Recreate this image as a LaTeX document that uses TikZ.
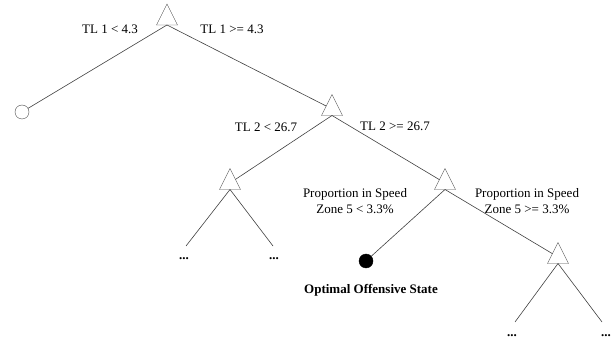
\documentclass[tikz,border=0pt]{standalone}
\usepackage{fontspec}
\setmainfont{Liberation Serif}
\usetikzlibrary{shapes.geometric}
\begin{document}
\begin{tikzpicture}[x=1pt,y=-1pt,
  tri/.style={draw=black!70,fill=white,isosceles triangle,shape border rotate=90,isosceles triangle stretches,minimum width=21pt,minimum height=21pt,inner sep=0pt,outer sep=0pt},
  leaf/.style={draw=black!70,circle,minimum size=14pt,inner sep=0pt},
  bleaf/.style={draw=black,fill=black,circle,minimum size=14pt,inner sep=0pt},
  lbl/.style={font=\fontsize{13}{16}\selectfont,inner sep=0pt,align=center},
  dots/.style={font=\fontsize{13}{16}\selectfont\bfseries,inner sep=0pt},
  edge/.style={draw=black!75,line width=0.6pt}]
\useasboundingbox (0,0) rectangle (615,344);
\node[tri] (t1) at (167,18.5) {};
\node[tri] (t2) at (332,109) {};
\node[tri] (t3) at (230,183) {};
\node[tri] (t4) at (445,183) {};
\node[tri] (t5) at (558,257) {};
\node[leaf] (c1) at (22,112) {};
\node[bleaf] (c2) at (366,261) {};
\coordinate (e1) at (186,246);
\coordinate (e2) at (273,246);
\coordinate (e3) at (515,322);
\coordinate (e4) at (602,322);
\node[dots] (d1) at (184,259) {...};
\node[dots] (d2) at (274,259) {...};
\node[dots] (d3) at (512,336) {...};
\node[dots] (d4) at (606,336) {...};
\draw[edge] (t1.south) -- (c1);
\draw[edge] (t1.south) -- (t2);
\draw[edge] (t2.south) -- (t3);
\draw[edge] (t2.south) -- (t4);
\draw[edge] (t3.south) -- (e1);
\draw[edge] (t3.south) -- (e2);
\draw[edge] (t4.south) -- (c2);
\draw[edge] (t4.south) -- (t5);
\draw[edge] (t5.south) -- (e3);
\draw[edge] (t5.south) -- (e4);
\node[lbl] (l1) at (110,29) {TL 1 < 4.3};
\node[lbl] (l2) at (232,29) {TL 1 >= 4.3};
\node[lbl] (l3) at (266,127) {TL 2 < 26.7};
\node[lbl] (l4) at (395,126) {TL 2 >= 26.7};
\node[lbl] (l5) at (355,201) {Proportion in Speed\\Zone 5 < 3.3\%};
\node[lbl] (l6) at (527,201) {Proportion in Speed\\Zone 5 >= 3.3\%};
\node[lbl,font=\fontsize{13}{16}\selectfont\bfseries] (l7) at (371,290) {Optimal Offensive State};
\end{tikzpicture}
\end{document}
